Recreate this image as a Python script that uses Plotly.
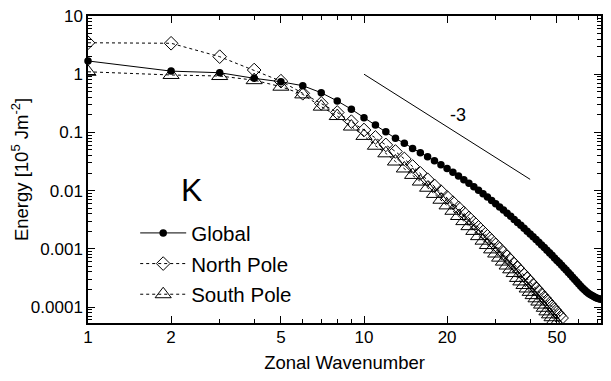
import plotly.graph_objects as go

wavenumber_global = list(range(1, 73))
energy_global = [
    1.69, 1.13, 1.06, 0.85, 0.74, 0.635, 0.48, 0.347, 0.25, 0.179,
    0.134, 0.103, 0.079, 0.065, 0.053, 0.0447, 0.0381, 0.0326, 0.0279, 0.0240,
    0.0207, 0.0178, 0.0154, 0.0134, 0.0116, 0.0101, 0.00883, 0.00773, 0.00678, 0.00596,
    0.00524, 0.00462, 0.00408, 0.00361, 0.00320, 0.00284, 0.00253, 0.00225, 0.00201, 0.00180,
    0.00161, 0.00145, 0.00130, 0.00116, 0.00105, 0.000946, 0.000853, 0.000771, 0.000698, 0.000632,
    0.000573, 0.000520, 0.000473, 0.000431, 0.000392, 0.000357, 0.000326, 0.000298, 0.000272, 0.000249,
    0.000228, 0.000209, 0.000195, 0.000182, 0.000172, 0.000164, 0.000158, 0.000151, 0.000146, 0.000141,
    0.000138, 0.000136,
]

wavenumber_north = list(range(1, 53))
energy_north = [
    3.47, 3.40, 2.0, 1.18, 0.76, 0.47, 0.316, 0.22, 0.153, 0.11,
    0.082, 0.061, 0.047, 0.035, 0.026, 0.0198, 0.0154, 0.0121, 0.00962, 0.00769,
    0.00621, 0.00505, 0.00412, 0.00339, 0.00281, 0.00233, 0.00195, 0.00164, 0.00138, 0.00117,
    0.000995, 0.000851, 0.000729, 0.000627, 0.000541, 0.000468, 0.000406, 0.000354, 0.000308, 0.000270,
    0.000237, 0.000208, 0.000184, 0.000162, 0.000144, 0.000127, 0.000113, 0.000101, 0.0000899, 0.0000804,
    0.0000719, 0.0000646,
]

wavenumber_south = list(range(1, 51))
energy_south = [
    1.10, 0.97, 0.93, 0.79, 0.61, 0.45, 0.277, 0.191, 0.126, 0.087,
    0.059, 0.0437, 0.0316, 0.024, 0.0186, 0.0143, 0.0112, 0.00877, 0.00697, 0.00557,
    0.00450, 0.00366, 0.00299, 0.00245, 0.00203, 0.00165, 0.00138, 0.00116, 0.000977, 0.000830,
    0.000705, 0.000603, 0.000516, 0.000444, 0.000383, 0.000316, 0.000275, 0.000239, 0.000208, 0.000182,
    0.000160, 0.000141, 0.000124, 0.000110, 0.0000970, 0.0000841, 0.0000748, 0.0000667, 0.0000594, 0.0000531,
]

slope_k = [10, 40]
slope_energy = [1.0, 0.0156]

x_tickvals = [1, 2, 5, 10, 20, 50]
x_minorvals = [3, 4, 6, 7, 8, 9, 30, 40, 60, 70]
y_tickvals = [0.0001, 0.001, 0.01, 0.1, 1, 10]
y_ticktext = ["0.0001", "0.001", "0.01", "0.1", "1", "10"]
y_minorvals = [m * 10.0 ** e for e in range(-5, 1) for m in range(2, 10)]

FONT = "Liberation Sans, Arial, sans-serif"

fig = go.Figure()
fig.add_trace(go.Scatter(
    x=wavenumber_global, y=energy_global, name="Global", mode="lines+markers",
    line=dict(color="black", width=1),
    marker=dict(symbol="circle", size=7.5, color="black"),
    cliponaxis=False, legendgroup="g",
))
fig.add_trace(go.Scatter(
    x=wavenumber_north, y=energy_north, name="North Pole", mode="lines+markers",
    line=dict(color="black", width=1, dash="3px,3px"),
    marker=dict(symbol="diamond-open", size=10.5, color="black", line=dict(width=1, color="black")),
    legendgroup="n",
))
fig.add_trace(go.Scatter(
    x=wavenumber_south, y=energy_south, name="South Pole", mode="lines+markers",
    line=dict(color="black", width=1, dash="3px,3px"),
    marker=dict(symbol="triangle-up-open", size=14, color="black", line=dict(width=1, color="black")),
    legendgroup="s",
))
fig.add_trace(go.Scatter(
    x=slope_k, y=slope_energy, mode="lines", showlegend=False,
    line=dict(color="black", width=1),
))

fig.add_annotation(text="K", x=0.2008, y=0.433, xref="paper", yref="paper",
                   xanchor="center", yanchor="middle",
                   showarrow=False, font=dict(family=FONT, size=32, color="black"))
fig.add_annotation(text="-3", x=0.721, y=0.6775, xref="paper", yref="paper",
                   xanchor="center", yanchor="middle",
                   showarrow=False, font=dict(family=FONT, size=18, color="black"))

axis_common = dict(
    type="log", showline=True, linecolor="black", linewidth=1.5, mirror="ticks",
    ticks="inside", tickcolor="black", tickwidth=1, ticklen=7,
    showgrid=False, zeroline=False, automargin=False, ticklabeloverflow="allow",
    tickfont=dict(family=FONT, size=17, color="black"),
)

fig.update_xaxes(
    **axis_common,
    range=[0, 1.8587],
    tickvals=x_tickvals, ticktext=[str(v) for v in x_tickvals],
    ticklabelstandoff=-2,
    minor=dict(tickvals=x_minorvals, ticks="inside", ticklen=4, tickcolor="black", tickwidth=1, showgrid=False),
    title=dict(text="Zonal Wavenumber", font=dict(family=FONT, size=18.5, color="black"), standoff=10),
)
fig.update_yaxes(
    **axis_common,
    range=[-4.275, 1],
    tickvals=y_tickvals, ticktext=y_ticktext,
    minor=dict(tickvals=y_minorvals, ticks="inside", ticklen=4, tickcolor="black", tickwidth=1, showgrid=False),
    title=dict(text="Energy [10<sup>5</sup> Jm<sup>-2</sup>]", font=dict(family=FONT, size=18.5, color="black"), standoff=1),
)

# the page body has an 8px margin, so the figure is offset by 8px right and down
fig.update_layout(
    width=611, height=381,
    margin=dict(l=80, r=18, t=8, b=66),
    paper_bgcolor="white", plot_bgcolor="white",
    font=dict(family=FONT, color="black"),
    showlegend=True,
    legend=dict(x=0.092, y=0.358, xanchor="left", yanchor="top",
                bgcolor="rgba(0,0,0,0)", borderwidth=0, itemwidth=46,
                font=dict(family=FONT, size=20.5, color="black"),
                tracegroupgap=1),
)

fig.write_html("out.html")
